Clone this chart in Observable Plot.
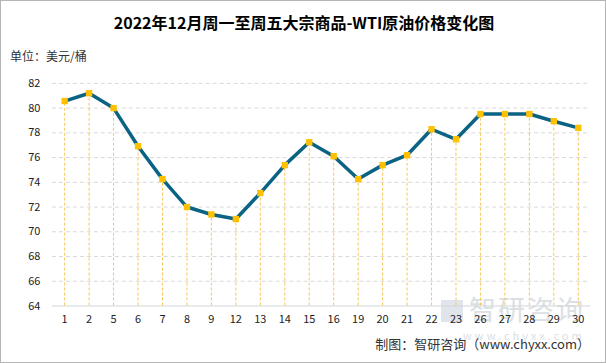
<!DOCTYPE html>
<html>
<head>
<meta charset="utf-8">
<script src="https://cdn.jsdelivr.net/npm/d3@7"></script>
<script src="https://cdn.jsdelivr.net/npm/@observablehq/plot@0.6"></script>
<style>
  html, body { margin: 0; padding: 0; background: #fff; }
  #wrap { position: relative; width: 606px; height: 363px; box-sizing: border-box; border: 1px solid #b5b5b5; overflow: hidden; font-family: "Noto Sans CJK SC", "Noto Sans", sans-serif; }
  #title { position: absolute; left: 0; top: 9px; width: 606px; text-align: center; font-size: 16px; font-weight: bold; color: #000; }
  #unit { position: absolute; left: 9px; top: 46px; font-size: 12px; color: #333; }
  #caption { position: absolute; right: 15px; top: 333px; font-size: 13px; color: #333; }
  #wm1 { position: absolute; left: 468px; top: 293px; font-size: 27px; line-height: 30px; color: #cdd3d8; opacity: 0.7; letter-spacing: 2px; }
  #wm2 { position: absolute; left: 462px; top: 326px; font-size: 11px; color: #cdd3d8; opacity: 0.7; letter-spacing: 3px; }
  #logo { position: absolute; left: 440px; top: 299px; width: 22px; height: 22px; background: #d3dae2; opacity: 0.7; }
  #plot { position: absolute; left: -1px; top: -1px; }
</style>
</head>
<body>
<div id="wrap">
  <div id="logo"></div>
  <div id="wm1">智研咨询</div>
  <div id="wm2">www.chyxx.com</div>
  <div id="plot"></div>
  <div id="title">2022年12月周一至周五大宗商品-WTI原油价格变化图</div>
  <div id="unit">单位：美元/桶</div>
  <div id="caption">制图：智研咨询（www.chyxx.com）</div>
</div>
<script>
const days = ["1","2","5","6","7","8","9","12","13","14","15","16","19","20","21","22","23","26","27","28","29","30"];
const prices = [80.57, 81.2, 80.0, 76.92, 74.26, 72.0, 71.4, 71.03, 73.13, 75.39, 77.24, 76.11, 74.26, 75.39, 76.19, 78.29, 77.48, 79.52, 79.52, 79.52, 78.94, 78.4];
const yTicks = [64, 66, 68, 70, 72, 74, 76, 78, 80, 82];

const data = days.map((d, i) => ({day: d, price: prices[i]}));

const chart = Plot.plot({
  width: 606,
  height: 363,
  marginTop: 83,
  marginBottom: 57,
  marginLeft: 52,
  marginRight: 15,
  style: {fontFamily: "'Noto Sans CJK SC', 'Noto Sans', sans-serif", fontSize: "11px", color: "#333", background: "transparent"},
  x: {type: "point", domain: days, padding: 0.5, insetLeft: 0, insetRight: 0, round: false, label: null},
  y: {domain: [64, 82], ticks: yTicks, insetTop: 0, insetBottom: 0, label: null},
  marks: [
    Plot.ruleY(yTicks.filter(t => t > 64), {stroke: "#d9d9d9", strokeDasharray: "4,3", strokeWidth: 1}),
    Plot.ruleY([64], {stroke: "#d0d5da", strokeWidth: 1}),
    Plot.ruleX(data, {x: "day", y1: 64, y2: "price", stroke: "#f7c65a", strokeDasharray: "3,2", strokeWidth: 1}),
    Plot.line(data, {x: "day", y: "price", stroke: "#0b6384", strokeWidth: 3.5, strokeLinejoin: "round"}),
    Plot.dot(data, {x: "day", y: "price", symbol: "square", r: 3.6, fill: "#ffc000", stroke: "none"}),
    Plot.axisY({ticks: yTicks, tickSize: 0, tickPadding: 12, fontSize: 11, fill: "#222"}),
    Plot.axisX({tickSize: 0, tickPadding: 9, fontSize: 11, fill: "#222"})
  ]
});
document.getElementById("plot").appendChild(chart);
</script>
</body>
</html>
